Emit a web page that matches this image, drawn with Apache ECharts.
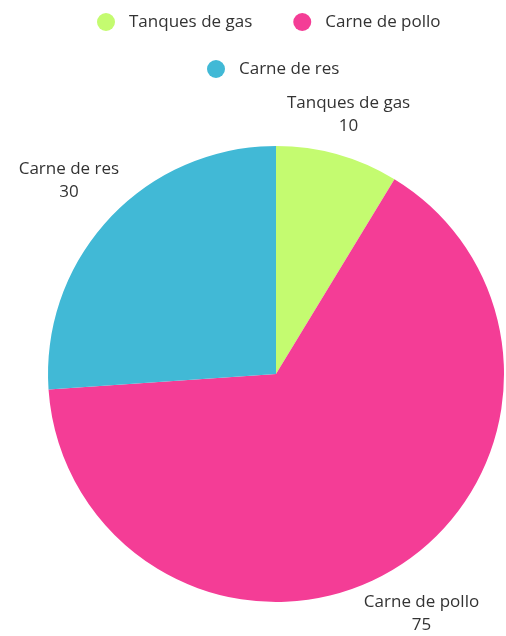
<!DOCTYPE html>
<html>
<head>
<meta charset="utf-8">
<script src="https://cdn.jsdelivr.net/npm/echarts@6/dist/echarts.min.js"></script>
<style>
  html, body { margin: 0; padding: 0; background: #fff; }
  #chart { width: 506px; height: 636px; }
</style>
</head>
<body>
<div id="chart"></div>
<script>
// datos del grafico
var categories = ['Tanques de gas', 'Carne de pollo', 'Carne de res']
var values = [10, 75, 30]
var colors = ['#c4fb70', '#f43d96', '#41b9d6']

var fontFamily = '"Open Sans", sans-serif'
var textColor = '#333'
var cx = 276, cy = 374, radius = 228
var labelOffset = 5

var pieData = categories.map(function (name, i) {
  return { name: name, value: values[i], itemStyle: { color: colors[i] } }
})

var total = values.reduce(function (a, b) { return a + b }, 0)

// angulo medio de cada porcion (desde arriba, sentido horario)
function midAngle(idx) {
  var before = 0
  for (var i = 0; i < idx; i++) before += values[i]
  return (before + values[idx] / 2) / total * Math.PI * 2
}

function makeLegend(names, top, left) {
  return {
    data: names,
    top: top,
    left: left,
    icon: 'circle',
    itemWidth: 18,
    itemHeight: 18,
    itemGap: 41,
    textStyle: {
      color: textColor,
      fontFamily: fontFamily,
      fontSize: 17,
      padding: [0, 0, 0, 9]
    }
  }
}

var chart = echarts.init(document.getElementById('chart'))
chart.setOption({
  animation: false,
  legend: [
    makeLegend(categories.slice(0, 2), 8, 92),
    makeLegend(categories.slice(2), 55, 202)
  ],
  series: [{
    type: 'pie',
    center: [cx, cy],
    radius: radius,
    startAngle: 90,
    data: pieData,
    label: {
      show: true,
      position: 'outside',
      overflow: 'none',
      fontSize: 17,
      formatter: '{a|{b}}\n{a|{c}}',
      rich: {
        a: {
          color: textColor,
          fontFamily: fontFamily,
          fontSize: 17,
          lineHeight: 23,
          align: 'center'
        }
      }
    },
    labelLine: { show: false },
    labelLayout: function (params) {
      // la caja de la etiqueta toca la recta perpendicular al angulo medio, justo fuera del borde
      var a = midAngle(params.dataIndex)
      var dx = Math.sin(a), dy = -Math.cos(a)
      var w = params.labelRect.width, h = params.labelRect.height
      var ext = Math.abs(dx) * w / 2 + Math.abs(dy) * h / 2
      var r = radius + labelOffset + ext
      return {
        x: cx + dx * r,
        y: cy + dy * r,
        align: 'center',
        verticalAlign: 'middle'
      }
    },
    emphasis: { disabled: true }
  }]
})
</script>
</body>
</html>
